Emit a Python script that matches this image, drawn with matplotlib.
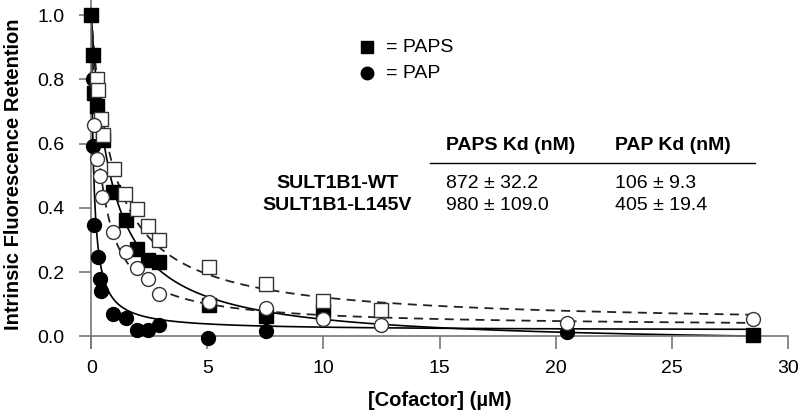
import matplotlib
matplotlib.use('Agg')
import matplotlib.pyplot as plt
import numpy as np

plt.rcParams['font.family'] = ['Liberation Sans', 'DejaVu Sans']

# PAPS, WT (filled squares)
paps_wt_x = [0.0, 0.06, 0.14, 0.24, 0.5, 0.96, 1.49, 1.96, 2.43, 2.93, 5.07, 7.53, 10.0, 28.5]
paps_wt_y = [1.0, 0.877, 0.756, 0.717, 0.61, 0.45, 0.361, 0.273, 0.237, 0.232, 0.097, 0.062, 0.078, 0.003]
# PAP, WT (filled circles)
pap_wt_x = [0.06, 0.06, 0.1, 0.29, 0.36, 0.43, 0.96, 1.49, 1.96, 2.43, 2.93, 5.03, 7.53, 20.5]
pap_wt_y = [0.80, 0.593, 0.346, 0.247, 0.178, 0.14, 0.07, 0.057, 0.021, 0.021, 0.034, -0.004, 0.015, 0.013]
# PAPS, L145V (open squares)
paps_mut_x = [0.27, 0.31, 0.41, 0.49, 0.99, 1.46, 1.96, 2.43, 2.91, 5.06, 7.53, 10.0, 12.46]
paps_mut_y = [0.80, 0.766, 0.678, 0.626, 0.522, 0.444, 0.395, 0.344, 0.299, 0.216, 0.162, 0.109, 0.083]
# PAP, L145V (open circles)
pap_mut_x = [0.14, 0.24, 0.36, 0.46, 0.96, 1.49, 1.96, 2.43, 2.91, 5.06, 7.53, 10.0, 12.46, 20.5, 28.5]
pap_mut_y = [0.657, 0.551, 0.498, 0.434, 0.325, 0.263, 0.214, 0.178, 0.131, 0.107, 0.088, 0.055, 0.036, 0.041, 0.055]

# Kd (uM) from the table, plus fitted baselines
kd = {'paps_wt': 0.872, 'pap_wt': 0.106, 'paps_mut': 0.98, 'pap_mut': 0.405}
base = {'paps_wt': -0.03, 'pap_wt': 0.018, 'paps_mut': 0.035, 'pap_mut': 0.028}

rows = ['SULT1B1-WT', 'SULT1B1-L145V']
paps_kd = ['872 \u00b1 32.2', '980 \u00b1 109.0']
pap_kd = ['106 \u00b1 9.3', '405 \u00b1 19.4']

FS = 14


def fit(key, x):
    k = kd[key]
    b = base[key]
    return b + (1 - b) * k / (k + x)


fig = plt.figure(figsize=(8, 4.12), dpi=100)
ax = fig.add_axes([0.114, 0.155, 0.871, 0.845])

xs = np.linspace(0, 28.6, 600)
ax.plot(xs, fit('paps_wt', xs), color='black', lw=1.2, zorder=2)
ax.plot(xs, fit('pap_wt', xs), color='black', lw=1.2, zorder=2)
ax.plot(xs, fit('paps_mut', xs), color='#222222', lw=1.3, ls=(0, (5, 3.5)), zorder=2)
ax.plot(xs, fit('pap_mut', xs), color='#222222', lw=1.3, ls=(0, (5, 3.5)), zorder=2)

ax.plot(paps_wt_x, paps_wt_y, 's', ms=9.5, color='black', clip_on=False, zorder=3)
ax.plot(pap_wt_x, pap_wt_y, 'o', ms=10, color='black', clip_on=False, zorder=3)
ax.plot(paps_mut_x, paps_mut_y, 's', ms=9.5, mfc='white', mec='#333333', mew=1.0,
        clip_on=False, zorder=4)
ax.plot(pap_mut_x, pap_mut_y, 'o', ms=10, mfc='white', mec='#333333', mew=1.0,
        clip_on=False, zorder=5)

ax.set_xlim(0, 30)
ax.set_ylim(-0.037, 1.047)
ax.spines['bottom'].set_position(('data', 0))
ax.spines['top'].set_visible(False)
ax.spines['right'].set_visible(False)
for s in ['left', 'bottom']:
    ax.spines[s].set_color('#777777')
    ax.spines[s].set_linewidth(1.2)
ax.set_xticks([0, 5, 10, 15, 20, 25, 30])
ax.set_yticks([0, 0.2, 0.4, 0.6, 0.8, 1.0])
ax.set_yticklabels(['0.0', '0.2', '0.4', '0.6', '0.8', '1.0'])
ax.tick_params(direction='out', length=9, width=1.2, color='#777777', labelsize=FS)
ax.tick_params(axis='y', pad=10)
ax.tick_params(axis='x', pad=8)

ax.set_xlabel('[Cofactor] (\u00b5M)', fontsize=FS + 0.5, fontweight='bold', va='center')
ax.xaxis.set_label_coords(0.5, -0.149)
ax.set_ylabel('Intrinsic Fluorescence Retention', fontsize=FS + 0.5, fontweight='bold', va='center')
ax.yaxis.set_label_coords(-0.112, 0.5)

# legend
ax.plot([11.87], [0.90], 's', ms=9, color='black', clip_on=False)
ax.plot([11.87], [0.819], 'o', ms=9, color='black', clip_on=False)
ax.text(12.69, 0.90, '= PAPS', fontsize=FS, va='center')
ax.text(12.69, 0.819, '= PAP', fontsize=FS, va='center')

# Kd table
ax.text(15.26, 0.595, 'PAPS Kd (nM)', fontsize=FS, fontweight='bold', va='center')
ax.text(22.55, 0.595, 'PAP Kd (nM)', fontsize=FS, fontweight='bold', va='center')
ax.plot([14.6, 28.6], [0.539, 0.539], color='black', lw=1.0)
for i, name in enumerate(rows):
    yy = 0.477 - i * 0.069
    ax.text(10.59, yy, name, fontsize=FS, fontweight='bold', ha='center', va='center')
    ax.text(15.26, yy, paps_kd[i], fontsize=FS, va='center')
    ax.text(22.55, yy, pap_kd[i], fontsize=FS, va='center')

fig.savefig('out.png', dpi=100)
